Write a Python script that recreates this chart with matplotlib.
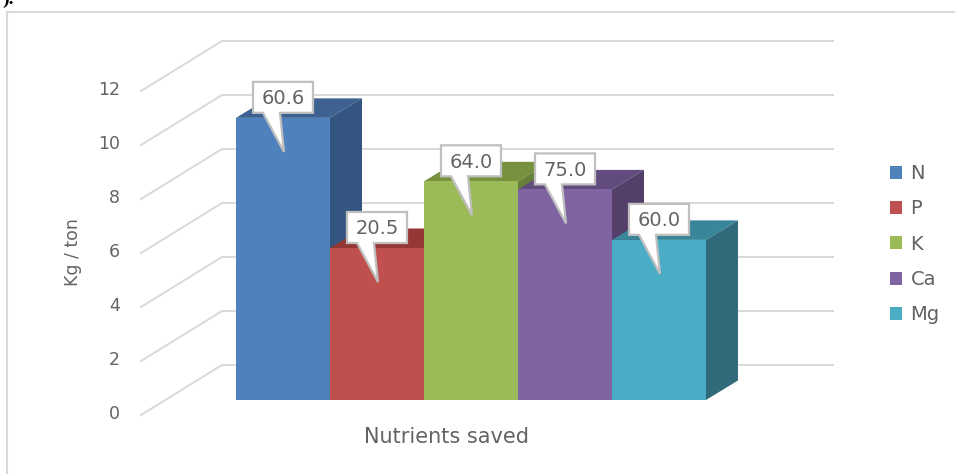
import matplotlib
matplotlib.use("Agg")
import matplotlib.pyplot as plt
from matplotlib.patches import Polygon

# data
nutrients = ["N", "P", "K", "Ca", "Mg"]
heights = [10.45, 5.63, 8.1, 7.8, 5.93]
callouts = ["60.6", "20.5", "64.0", "75.0", "60.0"]
y_ticks = [0, 2, 4, 6, 8, 10, 12]

front_colors = ["#4F81BD", "#C0504D", "#9BBB59", "#8064A2", "#4BACC6"]
top_colors = ["#3D6291", "#943735", "#77913F", "#624C7D", "#39859A"]
side_colors = ["#34557F", "#7F2F2D", "#66803A", "#533F6A", "#316B7B"]

GREY = "#636363"
GRID = "#D9D9D9"
W, H = 955, 474

# one bar = 94 px wide, one y unit = 27 px, bar base at pixel row 400
x_unit, y_unit = 94.0, 27.0
x0_px, y0_px = 236 + x_unit / 2, 400.0


def dx(px):
    return px / x_unit


def dy(px):
    return px / y_unit


def to_x(px):
    return (px - x0_px) / x_unit


def to_y(px):
    return (y0_px - px) / y_unit


plt.rcParams['font.family'] = ['DejaVu Sans']
fig = plt.figure(figsize=(W / 100, H / 100), dpi=100)
ax = fig.add_axes([0, 0, 1, 1])
ax.set_xlim(to_x(0), to_x(W))
ax.set_ylim(to_y(H), to_y(0))
ax.axis("off")

# outer frame and the clipped caption end at the top
ax.plot([to_x(7), to_x(7)], [to_y(H), to_y(12)], color=GRID, lw=1.5, zorder=1)
ax.plot([to_x(7), to_x(W)], [to_y(12), to_y(12)], color=GRID, lw=1.5, zorder=1)
ax.text(to_x(2), to_y(4), ").", fontsize=14, color="black", family="Liberation Serif",
        fontweight="bold", va="baseline", ha="left")

# gridlines: slanted floor/side part, then the back wall
for t in y_ticks:
    ax.plot([to_x(141), to_x(222), to_x(833)],
            [t + dy(-15), t + dy(35), t + dy(35)],
            color=GRID, lw=1.4, zorder=1, solid_joinstyle="miter")
    ax.text(to_x(120), t + dy(-14), str(t), ha="right", va="center", color=GREY, fontsize=12.5)

depth_x, depth_y = dx(32), dy(19.5)
xs = list(range(len(nutrients)))

for i, (x, h) in enumerate(zip(xs, heights)):
    z = 2 + i * 0.1
    ax.bar(x, h, width=1, color=front_colors[i], label=nutrients[i], zorder=z + 0.02)
    left, right = x - 0.5, x + 0.5
    ax.add_patch(Polygon([(left, h), (right, h), (right + depth_x, h + depth_y), (left + depth_x, h + depth_y)],
                         closed=True, fc=top_colors[i], ec="none", zorder=z))
    ax.add_patch(Polygon([(right, 0), (right + depth_x, depth_y), (right + depth_x, h + depth_y), (right, h)],
                         closed=True, fc=side_colors[i], ec="none", zorder=z + 0.01))

# callout labels sit 5 px above the bar top with a tail into the bar
for x, h, label in zip(xs, heights, callouts):
    outline = [(x - dx(30), h + dy(5)), (x - dx(20), h + dy(5)), (x + dx(1), h - dy(34)),
               (x - dx(3), h + dy(5)), (x + dx(30), h + dy(5)),
               (x + dx(30), h + dy(36)), (x - dx(30), h + dy(36))]
    ax.add_patch(Polygon(outline, closed=True, fc="white", ec="#BFBFBF", lw=1.6, zorder=5,
                         joinstyle="miter"))
    ax.text(x, h + dy(19), label, ha="center", va="center", color=GREY, fontsize=14, zorder=6)

ax.text(to_x(446), to_y(437), "Nutrients saved", ha="center", va="center", color=GREY, fontsize=15)
ax.text(to_x(73), to_y(252), "Kg / ton", ha="center", va="center", rotation=90, color=GREY, fontsize=12.5)

ax.legend(loc="upper left", bbox_to_anchor=(to_x(890), to_y(164)), bbox_transform=ax.transData,
          frameon=False, fontsize=14, labelcolor=GREY, handlelength=0.63, handleheight=0.63,
          handletextpad=0.42, labelspacing=0.84, borderpad=0, borderaxespad=0)

fig.savefig("out.png", dpi=100)
